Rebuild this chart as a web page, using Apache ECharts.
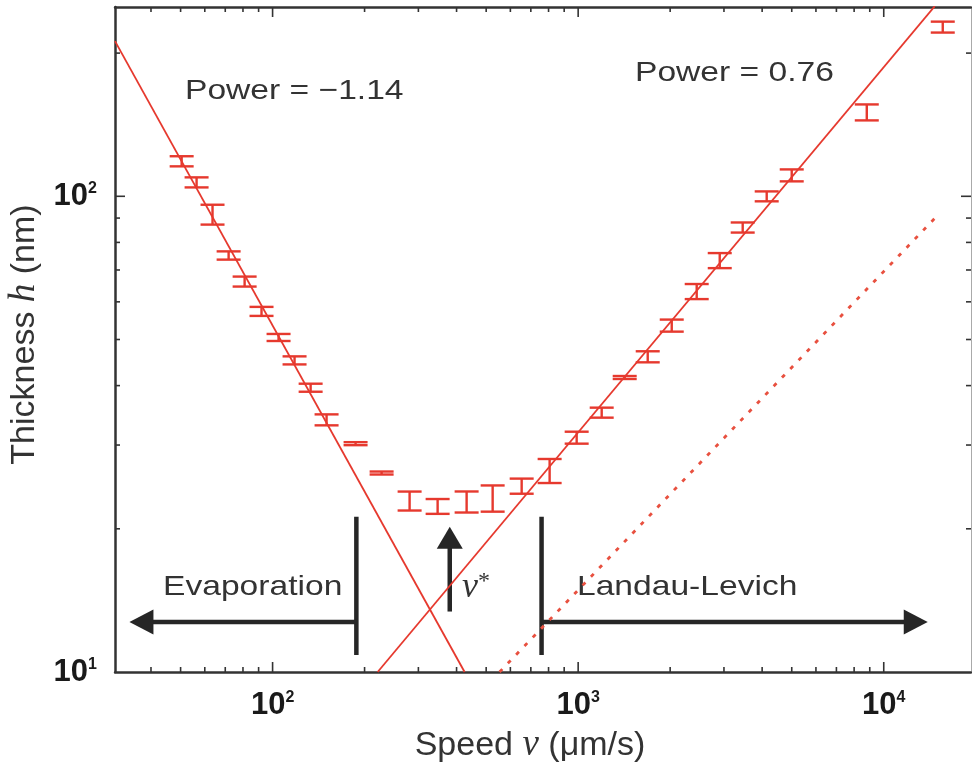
<!DOCTYPE html>
<html>
<head>
<meta charset="utf-8">
<script src="https://cdn.jsdelivr.net/npm/echarts@6/dist/echarts.min.js"></script>
<style>
  html, body { margin: 0; padding: 0; background: #fff; }
  #main { width: 972px; height: 763px; }
</style>
</head>
<body>
<div id="main"></div>
<script>
// measured points: speed v (um/s), thickness h (nm), error (nm)
const speed = [50.4, 56.4, 63.6, 71.8, 81.0, 92.0, 104.6, 118, 133.2, 150.2,
  186.9, 227.4, 280.8, 346.8, 431.5, 525, 653.3, 806.5, 988.8, 1194,
  1420, 1689, 2024, 2443, 2906, 3455, 4140, 4999, 8800, 15600];
const thickness = [118.5, 107.0, 91.6, 75.1, 66.2, 57.3, 50.5, 45.2, 39.6, 33.9,
  30.2, 26.2, 22.9, 22.3, 22.8, 23.2, 24.6, 26.5, 31.1, 35.1,
  41.6, 46.0, 53.5, 63.1, 73.3, 86.0, 100, 110.7, 150.2, 226.9];
const thicknessErr = [2.9, 2.6, 4.4, 1.5, 1.6, 1.25, 0.86, 0.88, 0.77, 0.9,
  0.22, 0.19, 1.05, 0.8, 1.16, 1.47, 0.9, 1.54, 0.9, 0.85,
  0.3, 1.23, 1.56, 2.3, 2.67, 2.1, 2.4, 3.2, 5.8, 6.0];

// fitted power laws (end points)
const fitEvaporation = [[30.5, 212], [425, 10]];     // power -1.14
const fitLandauLevich = [[220.7, 10], [14690, 251]]; // power 0.76
const theoryLandauLevich = [[553, 10], [14910, 90.8]];

// regime markers
const evapEdge = 188;
const llEdge = 759;
const edgeRange = [10.86, 21.2];
const arrowLevel = 12.74;
const evapArrowEnd = 34.0;
const llArrowEnd = 13930;
const vStar = 380;
const vStarRange = [13.4, 20.2];

// axes
const xMin = 30.5, xMax = 19300;
const yMin = 10, yMax = 250;
const xMajorTicks = [100, 1000, 10000];
const xMinorTicks = [40, 50, 60, 70, 80, 90, 200, 300, 400, 500, 600, 700, 800, 900,
  2000, 3000, 4000, 5000, 6000, 7000, 8000, 9000];
const yMajorTicks = [100];
const yMinorTicks = [20, 30, 40, 50, 60, 70, 80, 90, 200];

const RED = '#e6392e';
const INK = '#262626';
const SANS = 'Liberation Sans, Arial, sans-serif';
const SERIF = 'Liberation Serif, Times New Roman, serif';

const chartDom = document.getElementById('main');
const myChart = echarts.init(chartDom);

function powLabel(value) {
  const e = Math.log10(value);
  const r = Math.round(e);
  if (Math.abs(e - r) > 1e-6) return '';
  return '{b|10}{s|' + r + '}';
}
const labelRich = {
  b: { fontSize: 31, fontWeight: 'bold', fontFamily: SANS, color: '#1a1a1a' },
  s: { fontSize: 16, fontWeight: 'bold', fontFamily: SANS, color: '#1a1a1a', verticalAlign: 'top' }
};

const tickData = [].concat(
  xMajorTicks.map(v => [v, yMin, 0]),
  xMinorTicks.map(v => [v, yMin, 1]),
  yMajorTicks.map(v => [xMin, v, 2]),
  yMinorTicks.map(v => [xMin, v, 3])
);

function renderTick(params, api) {
  const kind = api.value(2);
  const cs = params.coordSys;
  const len = (kind === 0 || kind === 2) ? 10 : 5;
  const style = { stroke: '#333', lineWidth: 1.6 };
  if (kind < 2) {
    const x = api.coord([api.value(0), yMin])[0];
    const b = cs.y + cs.height;
    return { type: 'group', children: [
      { type: 'line', shape: { x1: x, y1: b, x2: x, y2: b - len }, style },
      { type: 'line', shape: { x1: x, y1: cs.y, x2: x, y2: cs.y + len }, style }
    ] };
  }
  const y = api.coord([xMin, api.value(1)])[1];
  const r = cs.x + cs.width;
  return { type: 'group', children: [
    { type: 'line', shape: { x1: cs.x, y1: y, x2: cs.x + len, y2: y }, style },
    { type: 'line', shape: { x1: r, y1: y, x2: r - len, y2: y }, style }
  ] };
}

function renderErrorBar(params, api) {
  const v = api.value(0), h = api.value(1), e = api.value(2);
  const lo = api.coord([v, h - e]);
  const hi = api.coord([v, h + e]);
  const w = 12;
  const style = { stroke: RED, lineWidth: 2.4 };
  return { type: 'group', children: [
    { type: 'line', shape: { x1: lo[0], y1: lo[1], x2: hi[0], y2: hi[1] }, style },
    { type: 'line', shape: { x1: lo[0] - w, y1: lo[1], x2: lo[0] + w, y2: lo[1] }, style },
    { type: 'line', shape: { x1: hi[0] - w, y1: hi[1], x2: hi[0] + w, y2: hi[1] }, style }
  ] };
}

function renderRegimes(params, api) {
  const style = { stroke: INK, lineWidth: 4.5 };
  const fill = { fill: INK };
  const e0 = api.coord([evapEdge, edgeRange[0]]);
  const e1 = api.coord([evapEdge, edgeRange[1]]);
  const l0 = api.coord([llEdge, edgeRange[0]]);
  const l1 = api.coord([llEdge, edgeRange[1]]);
  const aL0 = api.coord([evapEdge, arrowLevel]);
  const aL1 = api.coord([evapArrowEnd, arrowLevel]);
  const aR0 = api.coord([llEdge, arrowLevel]);
  const aR1 = api.coord([llArrowEnd, arrowLevel]);
  const u0 = api.coord([vStar, vStarRange[0]]);
  const u1 = api.coord([vStar, vStarRange[1]]);
  const hl = 24, hw = 12.5;
  return { type: 'group', children: [
    { type: 'line', shape: { x1: e0[0], y1: e0[1], x2: e1[0], y2: e1[1] }, style },
    { type: 'line', shape: { x1: l0[0], y1: l0[1], x2: l1[0], y2: l1[1] }, style },
    { type: 'line', shape: { x1: aL0[0], y1: aL0[1], x2: aL1[0] + hl - 2, y2: aL1[1] }, style },
    { type: 'polygon', shape: { points: [[aL1[0], aL1[1]], [aL1[0] + hl, aL1[1] - hw], [aL1[0] + hl, aL1[1] + hw]] }, style: fill },
    { type: 'line', shape: { x1: aR0[0], y1: aR0[1], x2: aR1[0] - hl + 2, y2: aR1[1] }, style },
    { type: 'polygon', shape: { points: [[aR1[0], aR1[1]], [aR1[0] - hl, aR1[1] - hw], [aR1[0] - hl, aR1[1] + hw]] }, style: fill },
    { type: 'line', shape: { x1: u0[0], y1: u0[1], x2: u1[0], y2: u1[1] + 20 }, style },
    { type: 'polygon', shape: { points: [[u1[0], u1[1]], [u1[0] - 13, u1[1] + 22], [u1[0] + 13, u1[1] + 22]] }, style: fill }
  ] };
}

function note(text, x, y, size) {
  return {
    type: 'text', x: x, y: y, scaleX: 1.2, silent: true,
    style: { text: text, fontSize: size || 28, fontFamily: SANS, fill: '#333',
      align: 'left', verticalAlign: 'middle' }
  };
}

const option = {
  animation: false,
  backgroundColor: '#fff',
  grid: { left: 115, right: 1, top: 7, bottom: 91, outerBoundsMode: 'none', containLabel: false },
  xAxis: [
    {
      type: 'log', min: xMin, max: xMax, position: 'bottom',
      axisLine: { lineStyle: { color: '#333', width: 2.5 } },
      axisTick: { show: false }, splitLine: { show: false },
      axisLabel: { formatter: powLabel, margin: 18, rich: labelRich },
      name: '{a|Speed }{i|v}{a| (μm/s)}', nameLocation: 'middle', nameGap: 55,
      nameTextStyle: {
        padding: [0, 26, 0, 0],
        rich: {
          a: { fontSize: 34, fontFamily: SANS, color: '#333' },
          i: { fontSize: 37, fontFamily: SERIF, fontStyle: 'italic', color: '#333' }
        }
      }
    },
    {
      type: 'log', min: xMin, max: xMax, position: 'top',
      axisLine: { lineStyle: { color: '#333', width: 2.5 } },
      axisTick: { show: false }, axisLabel: { show: false }, splitLine: { show: false }
    }
  ],
  yAxis: [
    {
      type: 'log', min: yMin, max: yMax, position: 'left',
      axisLine: { lineStyle: { color: '#333', width: 2.5 } },
      axisTick: { show: false }, splitLine: { show: false },
      axisLabel: { formatter: powLabel, margin: 18, rich: labelRich },
      name: '{a|Thickness }{i|h}{a| (nm)}', nameLocation: 'middle', nameGap: 70,
      nameTextStyle: {
        padding: [0, 0, 0, 10],
        rich: {
          a: { fontSize: 34, fontFamily: SANS, color: '#333' },
          i: { fontSize: 37, fontFamily: SERIF, fontStyle: 'italic', color: '#333' }
        }
      }
    },
    {
      type: 'log', min: yMin, max: yMax, position: 'right',
      axisLine: { lineStyle: { color: '#aaa', width: 1 } },
      axisTick: { show: false }, axisLabel: { show: false }, splitLine: { show: false }
    }
  ],
  series: [
    {
      name: 'ticks', type: 'custom', renderItem: renderTick, data: tickData,
      clip: false, silent: true, z: 5
    },
    {
      name: 'Evaporation fit', type: 'line', data: fitEvaporation, showSymbol: false,
      clip: true, silent: true, lineStyle: { color: RED, width: 1.8 }
    },
    {
      name: 'Landau-Levich fit', type: 'line', data: fitLandauLevich, showSymbol: false,
      clip: true, silent: true, lineStyle: { color: RED, width: 1.8 }
    },
    {
      name: 'Landau-Levich theory', type: 'line', data: theoryLandauLevich, showSymbol: false,
      clip: true, silent: true, lineStyle: { color: '#e8503f', width: 2.8, type: [4, 8] }
    },
    {
      name: 'Thickness', type: 'custom', renderItem: renderErrorBar,
      data: speed.map((v, i) => [v, thickness[i], thicknessErr[i]]),
      encode: { x: 0, y: 1 }, clip: true, silent: true
    },
    {
      name: 'regimes', type: 'custom', renderItem: renderRegimes,
      data: [[vStar, arrowLevel]], clip: false, silent: true
    }
  ],
  graphic: [
    note('Power = −1.14', 185, 91),
    note('Power = 0.76', 635, 73),
    note('Evaporation', 163, 587),
    note('Landau-Levich', 577, 587),
    {
      type: 'text', x: 462, y: 588, silent: true,
      style: {
        text: '{v|v}{s|*}', align: 'left', verticalAlign: 'middle',
        rich: {
          v: { fontSize: 36, fontFamily: SERIF, fontStyle: 'italic', fill: '#333' },
          s: { fontSize: 24, fontFamily: SERIF, fill: '#333', verticalAlign: 'top' }
        }
      }
    }
  ]
};

myChart.setOption(option);
</script>
</body>
</html>
